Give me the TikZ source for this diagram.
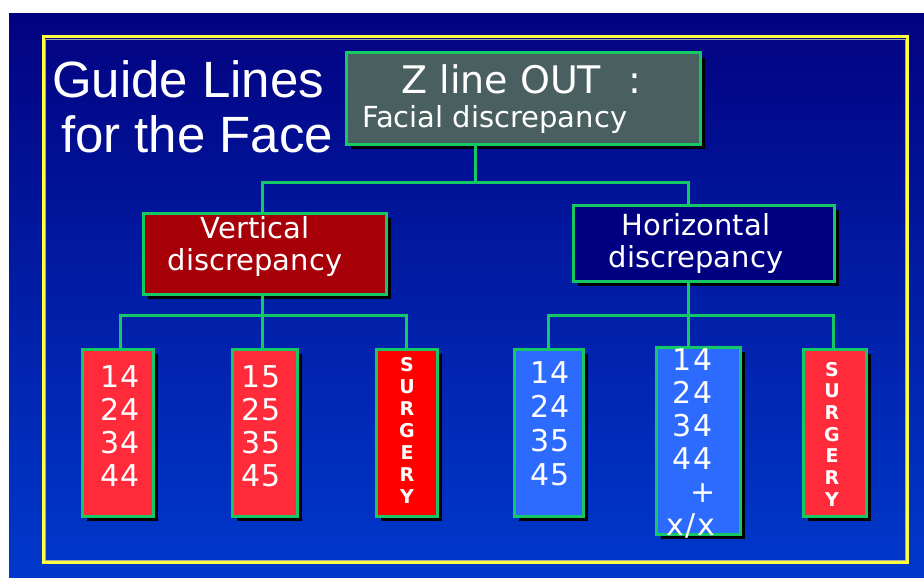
\documentclass[tikz,border=0pt]{standalone}
\usepackage{fontspec}
\setmainfont{DejaVu Sans}
\newfontfamily\titlefont{Liberation Sans}
\usetikzlibrary{shadows}
\definecolor{grn}{RGB}{20,200,100}
\definecolor{bgtop}{RGB}{2,2,128}
\definecolor{bgbot}{RGB}{0,57,204}
\definecolor{frameyel}{RGB}{255,255,64}
\definecolor{topfill}{RGB}{74,96,96}
\definecolor{vertfill}{RGB}{168,0,8}
\definecolor{horzfill}{RGB}{0,0,128}
\definecolor{pinkred}{RGB}{255,42,58}
\definecolor{purered}{RGB}{255,0,0}
\definecolor{boxblue}{RGB}{45,107,255}
\newcommand\stkC[1]{\begin{tabular}[t]{@{}c@{}}#1\end{tabular}}
\newcommand\stkL[1]{\begin{tabular}[t]{@{}l@{}}#1\end{tabular}}
\tikzset{
  box/.style={draw=grn, line width=3pt, inner sep=0pt, outer sep=0pt,
    drop shadow={shadow xshift=5pt, shadow yshift=-5pt, fill=black, opacity=1}},
  txt/.style={text=white, inner sep=0pt, outer sep=0pt},
  conn/.style={draw=grn, line width=3pt},
  numfont/.style={font=\fontsize{30}{33.3}\selectfont\addfontfeature{LetterSpace=6}},
  letfont/.style={font=\bfseries\fontsize{19}{22}\selectfont},
  midfont/.style={font=\fontsize{29}{32}\selectfont}
}
\begin{document}
\begin{tikzpicture}[x=1pt, y=-1pt]
\useasboundingbox (0,0) rectangle (924,578);
\fill[white] (0,0) rectangle (924,578);
\shade[top color=bgtop, bottom color=bgbot] (9,14) rectangle (924,578);
\draw[frameyel, line width=3pt] (43.5,37) rectangle (907.5,562.5);
\draw[gray!70, line width=1pt] (45.5,39.5) rectangle (905.5,560.5);

% title
\node[txt, anchor=base west, font=\titlefont\fontsize{51}{55}\selectfont] (title1) at (52,97) {Guide Lines};
\node[txt, anchor=base west, font=\titlefont\fontsize{51}{55}\selectfont] (title2) at (61,152) {for the Face};

% boxes
\node[box, fill=topfill, minimum width=354pt, minimum height=91pt] (top) at (523,98.5) {};
\node[box, fill=vertfill, minimum width=243pt, minimum height=81pt] (vert) at (264.5,253.5) {};
\node[box, fill=horzfill, minimum width=261pt, minimum height=76pt] (horz) at (703.5,243) {};
\node[box, fill=pinkred, minimum width=71pt, minimum height=167pt] (c1) at (117.5,432.5) {};
\node[box, fill=pinkred, minimum width=65pt, minimum height=167pt] (c2) at (264.5,432.5) {};
\node[box, fill=purered, minimum width=61pt, minimum height=167pt] (c3) at (406.5,432.5) {};
\node[box, fill=boxblue, minimum width=69pt, minimum height=167pt] (c4) at (548.5,432.5) {};
\node[box, fill=boxblue, minimum width=84pt, minimum height=187pt] (c5) at (698,440.5) {};
\node[box, fill=pinkred, minimum width=63pt, minimum height=167pt] (c6) at (834.5,432.5) {};

% texts
\node[txt, anchor=base west, font=\fontsize{38}{40}\selectfont] (toptxt1) at (401.5,93) {Z line OUT\hspace{27pt}:};
\node[txt, anchor=base west, midfont] (toptxt2) at (362,128) {Facial discrepancy};
\node[txt, anchor=base, midfont] (verttxt) at (255,238) {\stkC{Vertical\\discrepancy}};
\node[txt, anchor=base, midfont] (horztxt) at (696,235) {\stkC{Horizontal\\discrepancy}};
\node[txt, anchor=base, numfont] (c1txt) at (120,387) {\stkC{14\\24\\34\\44}};
\node[txt, anchor=base, numfont] (c2txt) at (261,387) {\stkC{15\\25\\35\\45}};
\node[txt, anchor=base, letfont] (c3txt) at (407,371) {\stkC{S\\U\\R\\G\\E\\R\\Y}};
\node[txt, anchor=base, font=\fontsize{30}{34}\selectfont\addfontfeature{LetterSpace=6}] (c4txt) at (550,383) {\stkC{14\\24\\35\\45}};
\node[txt, anchor=base west, font=\fontsize{30}{33}\selectfont\addfontfeature{LetterSpace=6}] (c5txt) at (666,370)
  {\stkL{\hspace*{6.7pt}14\\\hspace*{6.7pt}24\\\hspace*{6.7pt}34\\\hspace*{6.7pt}44\\\hspace*{24pt}+\\x/x}};
\node[txt, anchor=base, font=\bfseries\fontsize{19}{21.7}\selectfont] (c6txt) at (832,376) {\stkC{S\\U\\R\\G\\E\\R\\Y}};

% connectors
\coordinate (b0) at (475,182);
\coordinate (b1) at (262,182);
\coordinate (b2) at (688,182);
\draw[conn] (top.south -| b0) -- (b0);
\draw[conn] (b1 |- vert.north) -- (b1) -- (b2) -- (b2 |- horz.north);

\coordinate (l0) at (262,315);
\coordinate (l1) at (120,315);
\coordinate (l3) at (406,315);
\draw[conn] (vert.south -| l0) -- (l0 |- c2.north);
\draw[conn] (l1 |- c1.north) -- (l1) -- (l3) -- (l3 |- c3.north);

\coordinate (r0) at (688,315);
\coordinate (r1) at (548,315);
\coordinate (r3) at (833,315);
\draw[conn] (horz.south -| r0) -- (r0 |- c5.north);
\draw[conn] (r1 |- c4.north) -- (r1) -- (r3) -- (r3 |- c6.north);
\end{tikzpicture}
\end{document}
